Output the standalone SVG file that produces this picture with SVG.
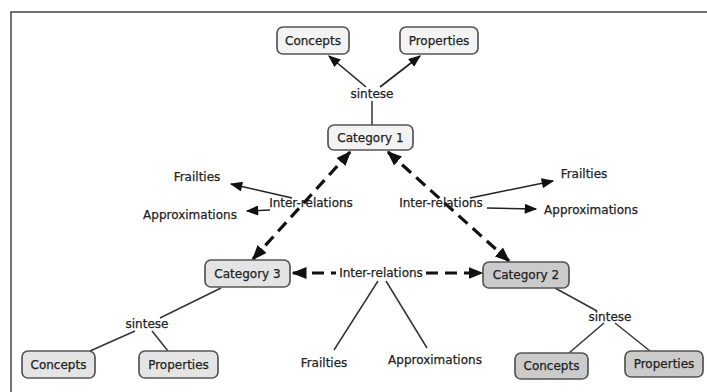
<svg xmlns="http://www.w3.org/2000/svg" width="707" height="392" viewBox="0 0 707 392">
<style>
text{font-family:"DejaVu Sans","Liberation Sans",sans-serif;font-size:12px;fill:#222;stroke:#222;stroke-width:0.25;text-anchor:middle}
.box{stroke:#555;stroke-width:1.7}
.l1{fill:#f3f3f3}.l2{fill:#e4e4e4}.l3{fill:#cbcbcb}
.ln{stroke:#333;stroke-width:1.5;fill:none}
.ar{stroke:#222;stroke-width:1.6;fill:none;marker-end:url(#ah)}
.ds{stroke:#111;stroke-width:3.2;fill:none;stroke-dasharray:12 7}
</style>
<defs>
<marker id="ah" viewBox="0 0 10 8" refX="9" refY="4" markerWidth="13" markerHeight="10" markerUnits="userSpaceOnUse" orient="auto"><path d="M0,0 L10,4 L0,8 z" fill="#111"/></marker>
<marker id="dh" viewBox="0 0 10 8" refX="9" refY="4" markerWidth="15" markerHeight="12" markerUnits="userSpaceOnUse" orient="auto-start-reverse"><path d="M0,0 L10,4 L0,8 z" fill="#111"/></marker>
</defs>
<rect width="707" height="392" fill="#fff"/>
<path d="M11,392 V12 H707" fill="none" stroke="#444" stroke-width="1.5"/>
<g id="connectors">
<path class="ar" d="M366,87 L329,56"/>
<path class="ar" d="M380,87 L420,56"/>
<path class="ln" d="M372,101 L372,125"/>
<path class="ds" d="M350,152 L253,259" marker-start="url(#dh)" marker-end="url(#dh)"/>
<path class="ds" d="M388,152 L509,261" marker-start="url(#dh)" marker-end="url(#dh)"/>
<path class="ds" d="M293,273 L336,273" marker-start="url(#dh)"/>
<path class="ds" d="M426,273 L482,273" marker-end="url(#dh)"/>
<path class="ar" d="M292,198 L231,184"/>
<path class="ar" d="M270,210 L247,211"/>
<path class="ar" d="M470,198 L553,181"/>
<path class="ar" d="M487,208 L536,209"/>
<path class="ln" d="M378,281 L334,350"/>
<path class="ln" d="M386,281 L427,348"/>
<path class="ln" d="M221,288 L160,318"/>
<path class="ln" d="M135,331 L90,351"/>
<path class="ln" d="M152,331 L168,351"/>
<path class="ln" d="M555,288 L597,311"/>
<path class="ln" d="M604,323 L569,353"/>
<path class="ln" d="M615,323 L650,351"/>
</g>
<g id="concepts-top"><rect class="box l1" x="277" y="27" width="72" height="27" rx="6"/><text x="313" y="45">Concepts</text></g>
<g id="properties-top"><rect class="box l1" x="400" y="27" width="78" height="27" rx="6"/><text x="439" y="45">Properties</text></g>
<g id="sintese-top"><text x="372" y="98">sintese</text></g>
<g id="category1"><rect class="box l1" x="328" y="125" width="85" height="25" rx="6"/><text x="370.5" y="142">Category 1</text></g>
<g id="frailties-left"><text x="197" y="181">Frailties</text></g>
<g id="approx-left"><text x="190" y="219">Approximations</text></g>
<g id="inter-left"><text x="311" y="207">Inter-relations</text></g>
<g id="frailties-right"><text x="584" y="178">Frailties</text></g>
<g id="approx-right"><text x="591" y="214">Approximations</text></g>
<g id="inter-right"><text x="441" y="207">Inter-relations</text></g>
<g id="category3"><rect class="box l2" x="205" y="260" width="85" height="27" rx="6"/><text x="247.5" y="278">Category 3</text></g>
<g id="category2"><rect class="box l3" x="483" y="262" width="86" height="26" rx="6"/><text x="526" y="279">Category 2</text></g>
<g id="inter-bottom"><text x="381" y="277">Inter-relations</text></g>
<g id="frailties-bottom"><text x="324" y="367">Frailties</text></g>
<g id="approx-bottom"><text x="435" y="364">Approximations</text></g>
<g id="sintese-left"><text x="147" y="328">sintese</text></g>
<g id="concepts-left"><rect class="box l2" x="22" y="351" width="73" height="27" rx="6"/><text x="58.5" y="369">Concepts</text></g>
<g id="properties-left"><rect class="box l2" x="139" y="351" width="79" height="27" rx="6"/><text x="178.5" y="369">Properties</text></g>
<g id="sintese-right"><text x="610" y="321">sintese</text></g>
<g id="concepts-right"><rect class="box l3" x="515" y="353" width="73" height="26" rx="6"/><text x="551.5" y="370">Concepts</text></g>
<g id="properties-right"><rect class="box l3" x="625" y="351" width="78" height="26" rx="6"/><text x="664" y="368">Properties</text></g>
</svg>
